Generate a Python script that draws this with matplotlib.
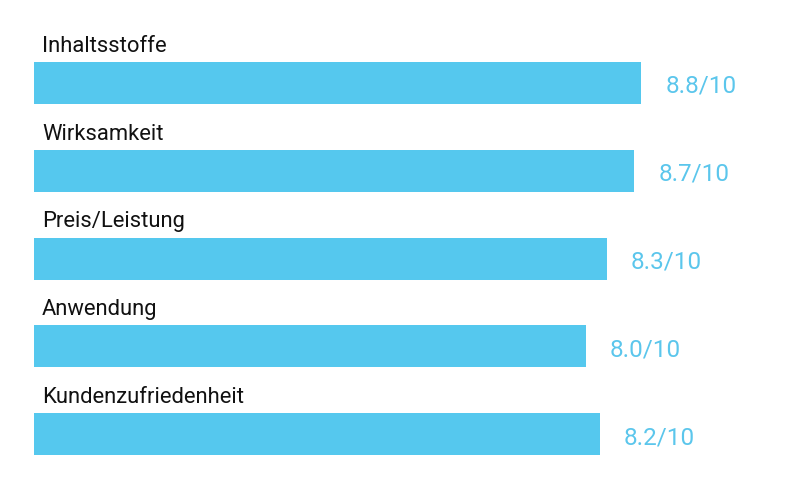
import matplotlib
matplotlib.use("Agg")
import matplotlib.pyplot as plt

categories = ["Inhaltsstoffe", "Wirksamkeit", "Preis/Leistung", "Anwendung", "Kundenzufriedenheit"]
scores = [8.8, 8.7, 8.3, 8.0, 8.2]
max_score = 10

bar_color = "#55C8EE"
text_color = "#5BC6EC"

fig = plt.figure(figsize=(8, 5), dpi=100)
ax = fig.add_axes([0, 0, 1, 1])

px_per_unit_x = 69.0
px_per_unit_y = 87.75
x0_px = 34.0
y0_px = 83.0

ax.set_xlim(-x0_px / px_per_unit_x, (800 - x0_px) / px_per_unit_x)
ax.set_ylim((500 - y0_px) / px_per_unit_y, -y0_px / px_per_unit_y)

bar_h = 42 / px_per_unit_y
ys = list(range(len(categories)))
ax.barh(ys, scores, height=bar_h, color=bar_color, align="center")

for y, cat, s in zip(ys, categories, scores):
    ax.text(8 / px_per_unit_x, y - bar_h / 2 - 10 / px_per_unit_y, cat,
            fontsize=15.8, family="Roboto", color="#111111", va="baseline", ha="left")
    ax.text(s + 24 / px_per_unit_x, y + 10 / px_per_unit_y, f"{s:.1f}/{max_score}",
            fontsize=17.5, family="Roboto", color=text_color, va="baseline", ha="left")

ax.axis("off")
fig.savefig("out.png", dpi=100)
